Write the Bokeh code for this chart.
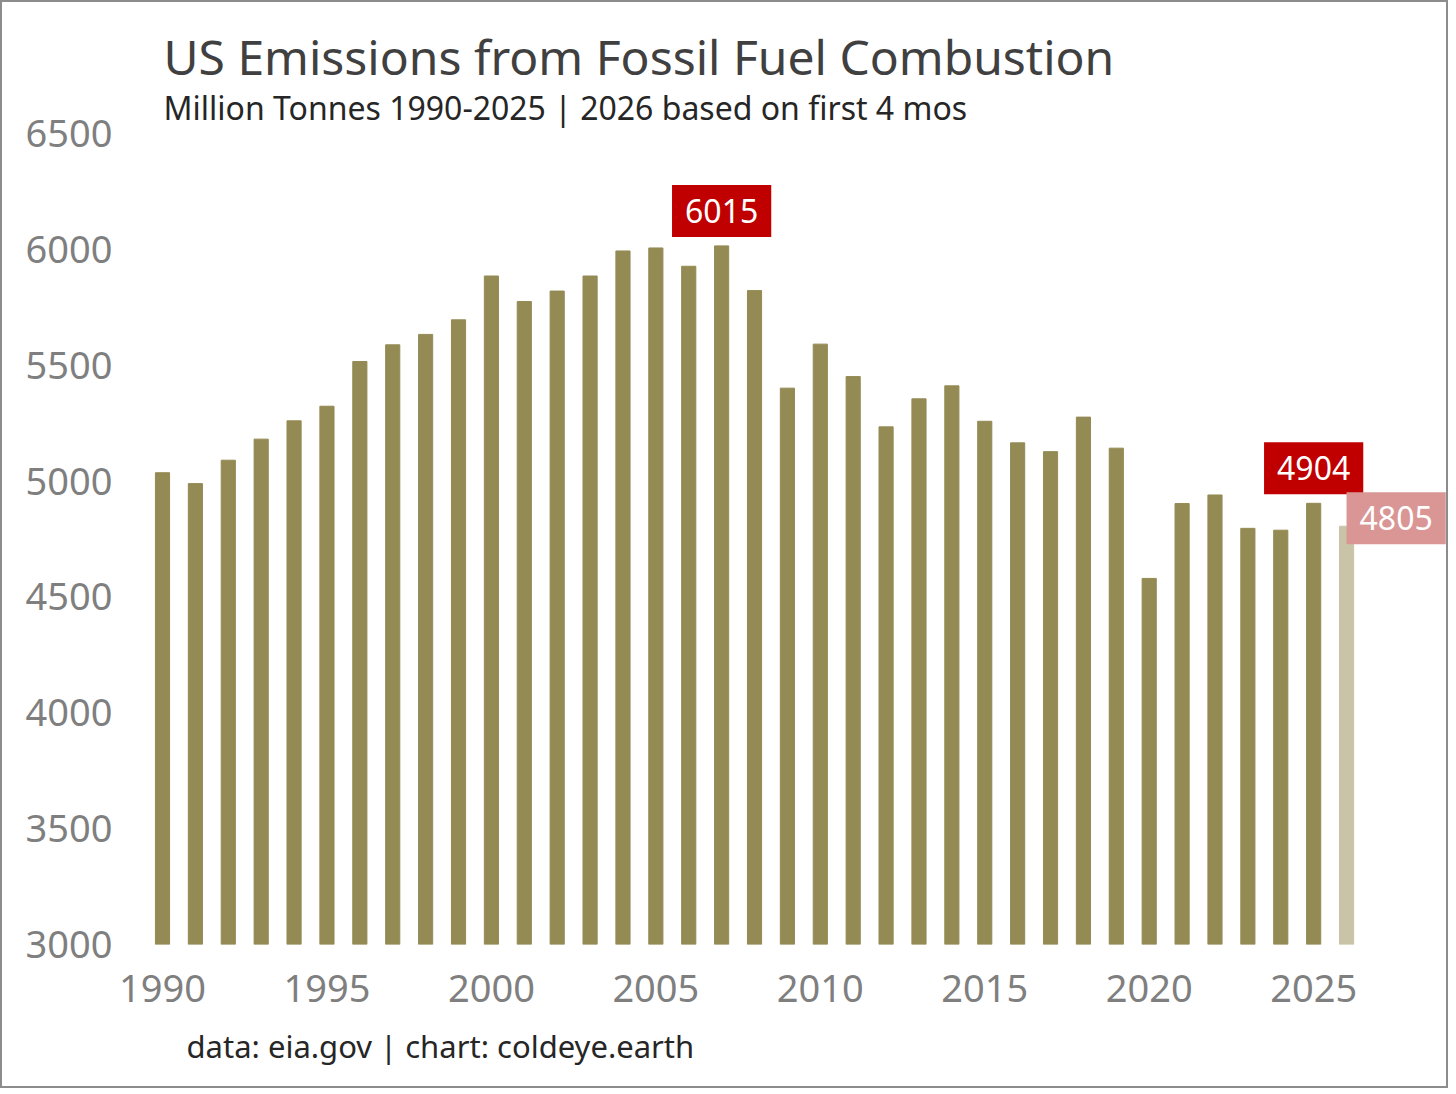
from bokeh.plotting import figure
from bokeh.models import Range1d, FixedTicker, Label, ColumnDataSource, Title
from bokeh.embed import file_html
from bokeh.resources import INLINE

# ---- data ----
years = list(range(1990, 2027))
emissions = [5036, 4989, 5090, 5181, 5260, 5323, 5516, 5588, 5633, 5696,
             5885, 5775, 5820, 5885, 5993, 6006, 5927, 6015, 5822, 5401,
             5591, 5451, 5234, 5355, 5411, 5258, 5165, 5127, 5276, 5142,
             4580, 4903, 4940, 4796, 4788, 4904, 4805]
projection_year = 2026
peak_year = 2007
last_full_year = 2025
x_ticks = [1990, 1995, 2000, 2005, 2010, 2015, 2020, 2025]
y_ticks = [3000, 3500, 4000, 4500, 5000, 5500, 6000, 6500]
title_text = "US Emissions from Fossil Fuel Combustion"
subtitle_text = "Million Tonnes 1990-2025 | 2026 based on first 4 mos"
footer_text = "data: eia.gov | chart: coldeye.earth"

FONT = "Noto Sans"
BAR = "#948A54"
BAR_PROJ = "#C9C3A8"

colors = [BAR_PROJ if y == projection_year else BAR for y in years]
src = ColumnDataSource(dict(x=years, top=emissions, color=colors))

p = figure(width=1448, height=1088, output_backend="svg", toolbar_location=None,
           x_range=Range1d(1988.875, 2029.1), y_range=Range1d(y_ticks[0], y_ticks[-1]),
           min_border_left=123, min_border_right=2, min_border_top=131,
           min_border_bottom=146)
p.styles = {"border": "2px solid #8c8c8c"}
p.outline_line_color = None
p.grid.visible = False
p.background_fill_color = "white"
p.border_fill_color = "white"

p.vbar(x="x", top="top", bottom=y_ticks[0], width=0.43, color="color", source=src)

for ax in (p.xaxis[0], p.yaxis[0]):
    ax.axis_line_color = None
    ax.major_tick_line_color = None
    ax.minor_tick_line_color = None
    ax.major_tick_out = 0
    ax.major_label_text_font = FONT
    ax.major_label_text_font_size = "38px"
    ax.major_label_text_color = "#7F7F7F"
p.xaxis.ticker = FixedTicker(ticks=x_ticks)
p.yaxis.ticker = FixedTicker(ticks=y_ticks)
p.xaxis.major_label_standoff = 30
p.yaxis.major_label_standoff = 13

# value labels
iv = dict(zip(years, emissions))
for yr, col in ((peak_year, "#C00000"), (last_full_year, "#C00000")):
    p.add_layout(Label(x=yr, y=iv[yr], text=str(iv[yr]),
                       text_align="center", text_baseline="bottom", y_offset=9,
                       text_font=FONT, text_font_size="32px", text_color="white",
                       background_fill_color=col, padding=(13, 14)))
p.add_layout(Label(x=projection_year, y=iv[projection_year], text=str(iv[projection_year]),
                   text_align="left", text_baseline="middle", x_offset=0, y_offset=8,
                   text_font=FONT, text_font_size="32px", text_color="white",
                   background_fill_color="#D99694", padding=(13, 14)))

# titles (first added sits nearest the plot frame)
p.title = None
p.add_layout(Title(text=subtitle_text, align="left", offset=38, standoff=10,
                   text_font=FONT, text_font_size="32px", text_font_style="normal",
                   text_color="#262626"), "above")
p.add_layout(Title(text=title_text, align="left", offset=38, standoff=-20,
                   text_font=FONT, text_font_size="48px", text_font_style="normal",
                   text_color="#404040"), "above")
p.add_layout(Title(text=footer_text, align="left", offset=61, standoff=36,
                   text_font=FONT, text_font_size="31px", text_font_style="normal",
                   text_color="#262626"), "below")

open("out.html", "w").write(file_html(p, INLINE))
